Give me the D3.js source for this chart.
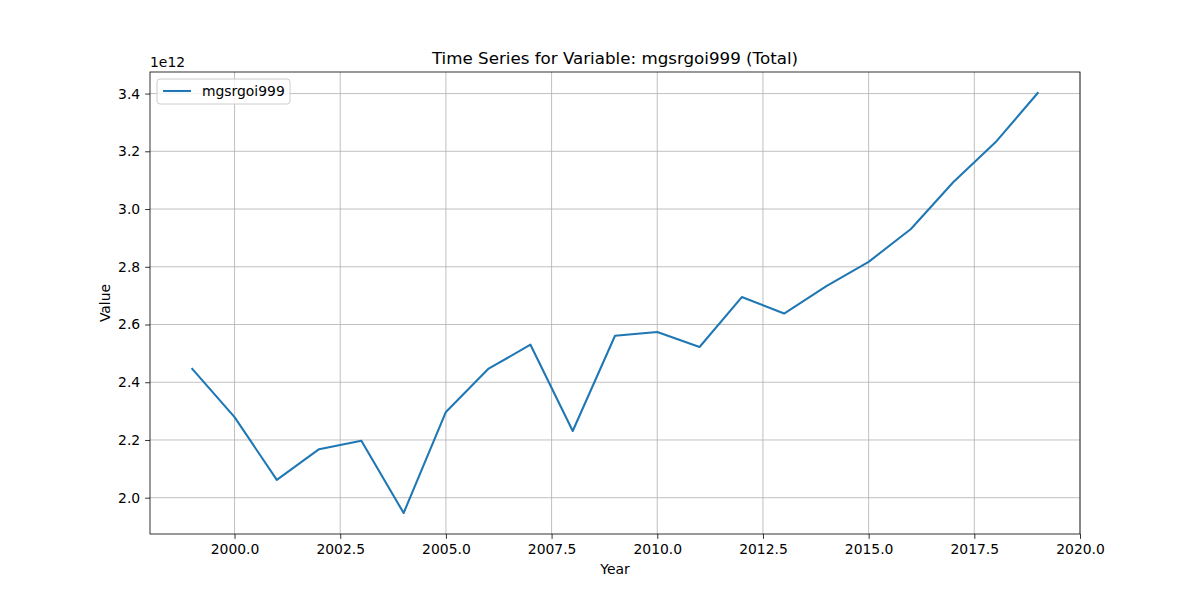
<!DOCTYPE html>
<html>
<head>
<meta charset="utf-8">
<script src="https://cdn.jsdelivr.net/npm/d3@7"></script>
<style>
  body { margin: 0; background: #fff; }
  svg { font-family: "DejaVu Sans", sans-serif; }
</style>
</head>
<body>
<svg id="chart" width="1200" height="600"></svg>
<script>
// values, in units of 1e12
const years = [1999, 2000, 2001, 2002, 2003, 2004, 2005, 2006, 2007, 2008, 2009,
               2010, 2011, 2012, 2013, 2014, 2015, 2016, 2017, 2018, 2019]
const values = [2.446, 2.279, 2.062, 2.168, 2.197, 1.947, 2.297, 2.446, 2.530, 2.231, 2.561,
                2.574, 2.522, 2.695, 2.638, 2.733, 2.817, 2.931, 3.093, 3.231, 3.402]
const xTicks = [2000, 2002.5, 2005, 2007.5, 2010, 2012.5, 2015, 2017.5, 2020]
const yTicks = [2.0, 2.2, 2.4, 2.6, 2.8, 3.0, 3.2, 3.4]
const seriesName = "mgsrgoi999"

const svg = d3.select("#chart")
// plot box (window.top is taken, so prefix)
const pLeft = 150, pRight = 1080, pTop = 72, pBottom = 534

// matplotlib style 5% margins
let xpad = (d3.max(years) - d3.min(years)) * 0.05
let ypad = (d3.max(values) - d3.min(values)) * 0.05
const x = d3.scaleLinear().domain([d3.min(years) - xpad, d3.max(years) + xpad]).range([pLeft, pRight])
const y = d3.scaleLinear().domain([d3.min(values) - ypad, d3.max(values) + ypad]).range([pBottom, pTop])

// grid
svg.append("g").selectAll("line").data(xTicks).join("line")
    .attr("x1", d => x(d)).attr("x2", d => x(d))
    .attr("y1", pTop).attr("y2", pBottom)
    .attr("stroke", "#b0b0b0").attr("stroke-width", 0.8)
svg.append("g").selectAll("line").data(yTicks).join("line")
    .attr("x1", pLeft).attr("x2", pRight)
    .attr("y1", d => y(d)).attr("y2", d => y(d))
    .attr("stroke", "#b0b0b0").attr("stroke-width", 0.8)

// axes
const xAxis = d3.axisBottom(x).tickValues(xTicks).tickSize(4.9).tickPadding(4.9).tickFormat(d3.format(".1f"))
const yAxis = d3.axisLeft(y).tickValues(yTicks).tickSize(4.9).tickPadding(4.9).tickFormat(d3.format(".1f"))

let gx = svg.append("g").attr("transform", `translate(0,${pBottom})`).call(xAxis)
let gy = svg.append("g").attr("transform", `translate(${pLeft},0)`).call(yAxis)
for (const g of [gx, gy]) {
    g.select(".domain").remove()
    g.selectAll("line").attr("stroke", "#000").attr("stroke-width", 0.8)
    g.selectAll("text").attr("font-size", 13.9).attr("fill", "#000")
        .attr("font-family", "DejaVu Sans, sans-serif")
}

// line
const line = d3.line().x((d, i) => x(years[i])).y(d => y(d))
svg.append("path").datum(values)
    .attr("d", line)
    .attr("fill", "none")
    .attr("stroke", "#1f77b4")
    .attr("stroke-width", 2.08)
    .attr("stroke-linejoin", "round")
    .attr("stroke-linecap", "square")

// frame
svg.append("rect").attr("x", pLeft).attr("y", pTop)
    .attr("width", pRight - pLeft).attr("height", pBottom - pTop)
    .attr("fill", "none").attr("stroke", "#000").attr("stroke-width", 0.8)

// texts
svg.append("text").attr("x", (pLeft + pRight) / 2).attr("y", pTop - 8)
    .attr("text-anchor", "middle").attr("font-size", 16.7)
    .text("Time Series for Variable: " + seriesName + " (Total)")
svg.append("text").attr("x", (pLeft + pRight) / 2).attr("y", 574)
    .attr("text-anchor", "middle").attr("font-size", 13.9).text("Year")
svg.append("text").attr("transform", `translate(110,${(pTop + pBottom) / 2}) rotate(-90)`)
    .attr("text-anchor", "middle").attr("font-size", 13.9).text("Value")
svg.append("text").attr("x", pLeft).attr("y", pTop - 5)
    .attr("font-size", 13.9).text("1e12")

// legend
const lg = svg.append("g").attr("transform", `translate(${pLeft + 7},${pTop + 7})`)
lg.append("rect").attr("width", 133).attr("height", 25).attr("rx", 3)
    .attr("fill", "#fff").attr("fill-opacity", 0.8)
    .attr("stroke", "#cccccc").attr("stroke-width", 1)
lg.append("line").attr("x1", 6).attr("x2", 34).attr("y1", 12).attr("y2", 12)
    .attr("stroke", "#1f77b4").attr("stroke-width", 2.08)
lg.append("text").attr("x", 45).attr("y", 17).attr("font-size", 13.9).text(seriesName)
</script>
</body>
</html>
